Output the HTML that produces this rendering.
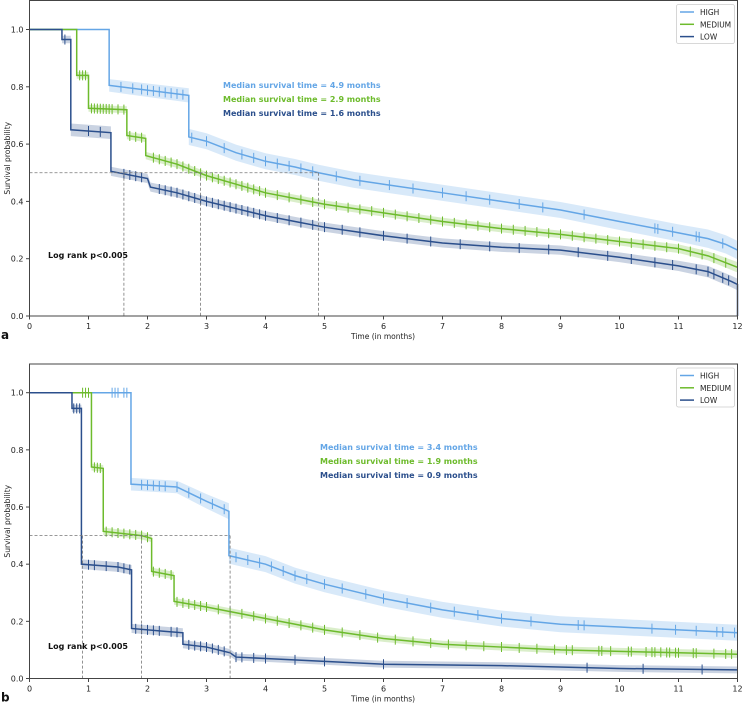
<!DOCTYPE html>
<html><head><meta charset="utf-8">
<style>
html,body{margin:0;padding:0;background:#fff;}
svg{display:block;font-family:"DejaVu Sans","Liberation Sans",sans-serif;}
</style></head>
<body>
<svg id="chart" width="742" height="704" viewBox="0 0 742 704" xmlns="http://www.w3.org/2000/svg"></svg>
<script>
// ---- Panel a data (repeated time = vertical drop) ----
const aHighT = [0,1.35,1.35,2.7,2.7,3.0,3.5,4,4.5,4.9,5.5,6,7,8,9,10,11,11.5,11.8,12];
const aHighS = [1,1,0.805,0.77,0.625,0.61,0.57,0.54,0.52,0.50,0.475,0.46,0.43,0.40,0.37,0.33,0.29,0.27,0.25,0.23];
const aHighCI = [0,0,0.022,0.025,0.028,0.028,0.028,0.028,0.028,0.028,0.028,0.028,0.028,0.028,0.028,0.03,0.03,0.032,0.032,0.032];
const aMedT = [0,0.8,0.8,1.0,1.0,1.65,1.65,1.97,1.97,2.5,3,3.5,4,4.5,5,6,7,8,9,10,11,11.5,12];
const aMedS = [1,1,0.84,0.84,0.725,0.72,0.63,0.62,0.56,0.53,0.49,0.46,0.43,0.41,0.39,0.36,0.33,0.305,0.285,0.26,0.235,0.21,0.17];
const aMedCI = [0,0,0.012,0.012,0.012,0.012,0.013,0.013,0.013,0.013,0.013,0.013,0.013,0.013,0.013,0.013,0.013,0.013,0.013,0.014,0.015,0.016,0.018];
const aLowT = [0,0.55,0.55,0.7,0.7,1.38,1.38,2.0,2.05,2.5,3,3.5,4,4.5,5,6,7,8,9,10,11,11.5,11.9,12,12];
const aLowS = [1,1,0.965,0.965,0.65,0.64,0.505,0.48,0.45,0.43,0.40,0.375,0.35,0.33,0.31,0.28,0.255,0.24,0.23,0.205,0.175,0.155,0.12,0.11,0.0];
const aLowCI = [0,0,0.013,0.013,0.022,0.022,0.016,0.016,0.016,0.016,0.016,0.016,0.016,0.016,0.016,0.016,0.016,0.016,0.016,0.017,0.018,0.02,0.02,0.02,0];
const aHighCens = [1.55,1.75,1.9,2.0,2.1,2.2,2.3,2.4,2.5,2.6,2.75,3.0,3.3,3.6,3.8,4.0,4.2,4.4,4.6,4.8,5.2,5.6,6.1,6.5,7.0,7.4,7.8,8.3,8.7,9.4,10.6,10.65,10.9,11.3,11.35,11.75];
const aMedCens = [0.85,0.9,0.95,1.05,1.1,1.15,1.2,1.25,1.3,1.35,1.4,1.5,1.6,1.7,1.8,1.9,2.1,2.2,2.3,2.4,2.5,2.6,2.7,2.8,2.9,3.0,3.1,3.2,3.3,3.4,3.5,3.6,3.7,3.8,3.9,4.0,4.2,4.4,4.6,4.8,5.0,5.2,5.4,5.6,5.8,6.0,6.2,6.4,6.6,6.8,7.0,7.2,7.4,7.6,7.8,8.0,8.2,8.4,8.6,8.8,9.0,9.2,9.4,9.6,9.8,10.0,10.2,10.4,10.6,10.8,11.0,11.2,11.4,11.6,11.8];
const aLowCens = [0.6,1.0,1.2,1.6,1.7,1.8,1.9,2.2,2.3,2.4,2.5,2.6,2.7,2.8,2.9,3.0,3.1,3.2,3.3,3.4,3.5,3.6,3.7,3.8,3.9,4.0,4.2,4.4,4.6,4.8,5.0,5.3,5.6,6.0,6.4,6.8,7.3,7.8,8.3,8.8,9.3,9.8,10.2,10.6,10.9,11.3,11.5,11.6,11.75,11.85];
// ---- Panel b data ----
const bHighT = [0,1.72,1.72,2.5,3.0,3.38,3.38,4,4.5,5,6,7,8,9,10,11,12];
const bHighS = [1,1,0.68,0.67,0.62,0.585,0.43,0.40,0.36,0.33,0.28,0.24,0.21,0.19,0.18,0.17,0.16];
const bHighCI = [0,0,0.022,0.022,0.025,0.028,0.028,0.028,0.028,0.028,0.028,0.028,0.028,0.028,0.028,0.028,0.028];
const bMedT = [0,1.05,1.05,1.25,1.25,1.9,2.07,2.07,2.45,2.45,3,3.5,4,5,6,7,8,9,10,11,12];
const bMedS = [1,1,0.74,0.735,0.515,0.50,0.49,0.375,0.36,0.27,0.25,0.23,0.21,0.17,0.14,0.12,0.11,0.10,0.095,0.09,0.085];
const bMedCI = [0,0,0.012,0.012,0.013,0.013,0.013,0.013,0.013,0.012,0.012,0.012,0.012,0.012,0.012,0.012,0.012,0.012,0.012,0.013,0.013];
const bLowT = [0,0.72,0.72,0.88,0.88,1.5,1.73,1.73,2.3,2.6,2.6,3,3.4,3.5,4,5,6,8,10,12];
const bLowS = [1,1,0.945,0.945,0.40,0.39,0.38,0.175,0.165,0.16,0.12,0.11,0.09,0.075,0.07,0.06,0.05,0.045,0.035,0.03];
const bLowCI = [0,0,0.013,0.013,0.017,0.017,0.017,0.016,0.016,0.016,0.014,0.014,0.013,0.012,0.012,0.012,0.012,0.012,0.012,0.012];
const bHighCens = [1.4,1.45,1.5,1.6,1.65,1.9,2.0,2.1,2.2,2.3,2.5,2.7,2.9,3.1,3.3,3.5,3.7,3.9,4.1,4.3,4.5,4.7,5.0,5.3,5.7,6.0,6.4,6.8,7.2,7.6,8.0,8.5,9.3,9.4,10.55,10.95,11.3,11.65,11.75,11.95];
const bMedCens = [0.9,0.95,1.0,1.1,1.15,1.2,1.3,1.4,1.5,1.6,1.7,1.8,1.9,2.0,2.1,2.2,2.3,2.4,2.5,2.6,2.7,2.8,2.9,3.0,3.2,3.4,3.6,3.8,4.0,4.2,4.4,4.6,4.8,5.0,5.3,5.6,5.9,6.2,6.5,6.8,7.1,7.4,7.7,8.0,8.3,8.6,8.9,9.1,9.2,9.65,9.7,9.85,10.15,10.2,10.45,10.55,10.6,10.7,10.8,10.85,10.95,11.0,11.25,11.3,11.6,11.8,11.9,12.0];
const bLowCens = [0.75,0.8,0.85,1.0,1.1,1.3,1.5,1.6,1.7,1.8,1.9,2.0,2.1,2.2,2.4,2.5,2.7,2.8,2.9,3.0,3.1,3.2,3.3,3.5,3.6,3.8,4.0,4.5,5.0,6.0,9.45,10.4,11.4];

const colors = {high:'#64a6e6', med:'#6dbb2c', low:'#2b4f8c'};
const NS='http://www.w3.org/2000/svg';
const svg=document.getElementById('chart');
function mk(tag,attrs,parent){const e=document.createElementNS(NS,tag);for(const k in attrs)e.setAttribute(k,attrs[k]);(parent||svg).appendChild(e);return e;}

function panel(cfg){
  const g=mk('g',{});
  
  
  const L=29.5,R=737.5,top=cfg.top,y0=cfg.y0,y1=cfg.y1;
  const xs=t=>L+(t/12)*(R-L);
  const ys=s=>y0+(y1-y0)*s;
  function valAt(T,S,t){
    let v=S[S.length-1];
    for(let i=0;i<T.length-1;i++){
      if(t>=T[i]&&t<T[i+1]){const f=(t-T[i])/(T[i+1]-T[i]);v=S[i]+(S[i+1]-S[i])*f;break;}
    }
    return v;
  }
  cfg.series.forEach(s=>{
    const sg=mk('g',{},g);
    
    
    let up='',lo='';
    for(let i=0;i<s.T.length;i++){
      const x=xs(s.T[i]);
      up+=(i?'L':'M')+x+','+ys(Math.min(1,s.S[i]+s.CI[i]))+' ';
      lo=' L'+x+','+ys(Math.max(0,s.S[i]-s.CI[i]))+lo;
    }
    const band=mk('path',{d:up+lo+' Z',fill:s.color,'fill-opacity':0.25,stroke:'none'},sg);
    
    
    let d='';
    for(let i=0;i<s.T.length;i++){d+=(i?' L':'M')+xs(s.T[i])+','+ys(s.S[i]);}
    const line=mk('path',{d:d,fill:'none',stroke:s.color,'stroke-width':1.5},sg);
    
    
    s.cens.forEach(t=>{
      const v=valAt(s.T,s.S,t);
      const c=mk('line',{x1:xs(t),x2:xs(t),y1:ys(v)-5,y2:ys(v)+5,stroke:s.color,'stroke-width':1},sg);
      
      
    });
  });
  const maxM=Math.max(...cfg.medians);
  const hl=mk('line',{x1:L,x2:xs(maxM),y1:ys(0.5),y2:ys(0.5),stroke:'#777','stroke-width':0.8,'stroke-dasharray':'3,2'},g);
  
  
  cfg.medians.forEach(m=>{
    const vl=mk('line',{x1:xs(m),x2:xs(m),y1:ys(0.5),y2:ys(0),stroke:'#777','stroke-width':0.8,'stroke-dasharray':'3,2'},g);
    
    
  });
  const fr=mk('rect',{x:L,y:top,width:R-L,height:y0-top,fill:'none',stroke:'#444','stroke-width':1},g);
  
  
  for(let t=0;t<=12;t++){
    mk('line',{x1:xs(t),x2:xs(t),y1:y0,y2:y0+3.5,stroke:'#444'},g);
    const tx=mk('text',{x:xs(t),y:y0+13,'font-size':8,'text-anchor':'middle',fill:'#222'},g);
    tx.textContent=t;
    
    
  }
  for(let k=0;k<=5;k++){
    const v=k*0.2;
    mk('line',{x1:L-3.5,x2:L,y1:ys(v),y2:ys(v),stroke:'#444'},g);
    const ty=mk('text',{x:L-6,y:ys(v)+3,'font-size':8,'text-anchor':'end',fill:'#222'},g);
    ty.textContent=v.toFixed(1);
    
    
  }
  const xt=mk('text',{x:383,y:y0+23,'font-size':7.5,'text-anchor':'middle',fill:'#222'},g);
  xt.textContent='Time (in months)';
  
  
  const ymid=(top+y0)/2;
  const yt=mk('text',{x:10,y:ymid,'font-size':7.5,'text-anchor':'middle',fill:'#222',transform:'rotate(-90 10 '+ymid+')'},g);
  yt.textContent='Survival probability';
  
  
  cfg.series.forEach((s,i)=>{
    const mt=mk('text',{x:cfg.medX,y:cfg.medY+i*14,'font-size':8,'font-weight':'bold',fill:s.color},g);
    mt.textContent='Median survival time = '+cfg.medians[i]+' months';
    
    
  });
  const lr=mk('text',{x:48,y:cfg.logY,'font-size':8,'font-weight':'bold',fill:'#111'},g);
  lr.textContent='Log rank p<0.005';
  
  
  const lg=mk('g',{},g);
  
  
  mk('rect',{x:676.5,y:top+4,width:58,height:39,rx:2,fill:'#fff',stroke:'#ccc','stroke-width':0.8},lg);
  ['HIGH','MEDIUM','LOW'].forEach((n,i)=>{
    const yy=top+11.5+i*12.3;
    mk('line',{x1:680,x2:694,y1:yy,y2:yy,stroke:cfg.series[i].color,'stroke-width':1.5},lg);
    const lt=mk('text',{x:700,y:yy+3,'font-size':7.5,fill:'#222'},lg);
    lt.textContent=n;
    
    
  });
  const pl=mk('text',{x:1,y:y0+23,'font-size':12,'font-weight':'bold',fill:'#111'},g);
  pl.textContent=cfg.label;
  
  
}

panel({name:'panel-a',label:'a',top:0.5,y0:316,y1:29.5,medians:[4.9,2.9,1.6],medX:223,medY:88,logY:258,
  series:[
    {key:'high',color:colors.high,T:aHighT,S:aHighS,CI:aHighCI,cens:aHighCens},
    {key:'medium',color:colors.med,T:aMedT,S:aMedS,CI:aMedCI,cens:aMedCens},
    {key:'low',color:colors.low,T:aLowT,S:aLowS,CI:aLowCI,cens:aLowCens}]});
panel({name:'panel-b',label:'b',top:364,y0:678.5,y1:392.7,medians:[3.4,1.9,0.9],medX:320,medY:450,logY:649,
  series:[
    {key:'high',color:colors.high,T:bHighT,S:bHighS,CI:bHighCI,cens:bHighCens},
    {key:'medium',color:colors.med,T:bMedT,S:bMedS,CI:bMedCI,cens:bMedCens},
    {key:'low',color:colors.low,T:bLowT,S:bLowS,CI:bLowCI,cens:bLowCens}]});
</script>
</body></html>
